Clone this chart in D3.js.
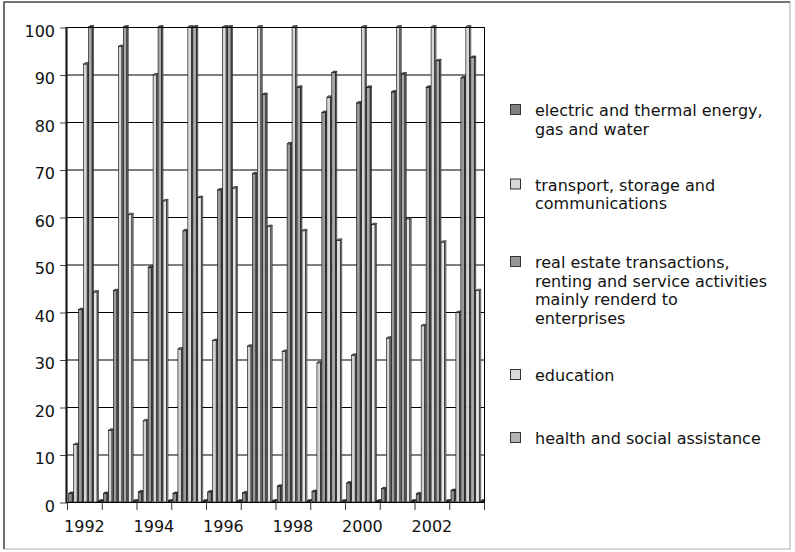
<!DOCTYPE html>
<html>
<head>
<meta charset="utf-8">
<script src="https://cdn.jsdelivr.net/npm/d3@7"></script>
<style>
  html, body { margin: 0; padding: 0; background: #fff; }
  svg { display: block; }
  text { font-family: "DejaVu Sans", sans-serif; fill: #111; }
</style>
</head>
<body>
<svg id="chart" width="795" height="552"></svg>
<script>
// ---- data ----
const years = [1992, 1993, 1994, 1995, 1996, 1997, 1998, 1999, 2000, 2001, 2002, 2003];
const electric   = [1.8, 1.8, 2.1, 1.8, 2.1, 1.9, 3.3, 2.2, 4.0, 2.8, 1.7, 2.4];
const transport  = [12.1, 15.1, 17.1, 32.2, 34.0, 32.8, 31.7, 29.3, 30.9, 34.5, 37.1, 39.9];
const realEstate = [40.5, 44.5, 49.4, 57.1, 65.7, 69.1, 75.4, 82.0, 84.0, 86.3, 87.3, 89.3];
const education  = [92.2, 95.9, 89.9, 100, 100, 100, 100, 85.2, 100, 100, 100, 100];
const health     = [100, 100, 100, 100, 100, 85.8, 87.3, 90.4, 87.3, 90.1, 92.9, 93.6];
const series6    = [44.2, 60.5, 63.4, 64.1, 66.1, 58.0, 57.1, 55.1, 58.4, 59.6, 54.7, 44.5];
const series7    = [0.2, 0.2, 0.2, 0.2, 0.2, 0.2, 0.2, 0.2, 0.2, 0.2, 0.2, 0.2];
const yTicks = [0, 10, 20, 30, 40, 50, 60, 70, 80, 90, 100];
const xLabels = [1992, 1994, 1996, 1998, 2000, 2002];

const barSeries = [electric, transport, realEstate, education, health, series6, series7];
const barColors = ["#8c8c8c", "#d2d2d2", "#9a9a9a", "#d6d6d6", "#a9a9a9", "#e6e6e6", "#7a7a7a"];

const legendItems = [
  { lines: ["electric and thermal energy,", "gas and water"], color: "#808080" },
  { lines: ["transport, storage and", "communications"], color: "#d6d6d6" },
  { lines: ["real estate transactions,", "renting and service activities", "mainly renderd to", "enterprises"], color: "#979797" },
  { lines: ["education"], color: "#dadada" },
  { lines: ["health and social assistance"], color: "#b3b3b3" }
];
const legendBaselines = [116, 190.5, 268, 381, 444];

// ---- layout ----
const svg = d3.select("#chart");
const L = 67, R = 484, T = 27, B = 502;

// outer border
svg.append("rect").attr("x", 4).attr("y", 2).attr("width", 786).attr("height", 547)
  .attr("fill", "none").attr("stroke", "#bbb").attr("stroke-width", 1.2);
svg.append("path").attr("d", `M4,549 V2 H790`).attr("fill", "none")
  .attr("stroke", "#555").attr("stroke-width", 1.6);

const x = d3.scaleBand().domain(years).range([L, R]).padding(0);
const y = d3.scaleLinear().domain([0, 100]).range([B, T]);

// gridlines
svg.append("g").selectAll("line").data(yTicks.slice(1)).join("line")
  .attr("x1", L).attr("x2", R)
  .attr("y1", d => y(d) + 0.5).attr("y2", d => y(d) + 0.5)
  .attr("stroke", "#000").attr("stroke-width", 1);

// right border of plot
svg.append("line").attr("x1", R + 0.5).attr("x2", R + 0.5).attr("y1", T).attr("y2", B)
  .attr("stroke", "#000").attr("stroke-width", 1);

// bars (3D style)
const bw = x.bandwidth() / barSeries.length;
const depth = 1.5;
const fw = bw - depth;
const offset = 1.7;
svg.append("clipPath").attr("id", "plotclip").append("rect")
  .attr("x", L).attr("y", 0).attr("width", R - L).attr("height", B + 1);
const barsG = svg.append("g").attr("clip-path", "url(#plotclip)");

years.forEach((yr, gi) => {
  barSeries.forEach((s, k) => {
    const v = s[gi];
    const x0 = x(yr) + offset + k * bw;
    const yt = y(v);
    const c = barColors[k];
    const g = barsG.append("g");
    // side face
    g.append("path")
      .attr("d", `M${x0 + fw},${yt} L${x0 + fw + depth},${yt - depth} L${x0 + fw + depth},${B - depth} L${x0 + fw},${B} Z`)
      .attr("fill", d3.color(c).darker(1.1)).attr("stroke", "#000").attr("stroke-width", 0.5);
    // front face
    g.append("rect").attr("x", x0).attr("y", yt).attr("width", fw).attr("height", B - yt)
      .attr("fill", c).attr("stroke", "#000").attr("stroke-width", 0.6);
    // top face
    g.append("path")
      .attr("d", `M${x0},${yt} L${x0 + depth},${yt - depth} L${x0 + fw + depth},${yt - depth} L${x0 + fw},${yt} Z`)
      .attr("fill", d3.color(c).darker(1.4)).attr("stroke", "#000").attr("stroke-width", 0.5);
  });
});

// top line of plot
svg.append("line").attr("x1", L).attr("x2", R + 1).attr("y1", T + 0.5).attr("y2", T + 0.5)
  .attr("stroke", "#000").attr("stroke-width", 1);

// y axis
const yAxis = d3.axisLeft(y).tickValues(yTicks).tickSize(7).tickPadding(5).tickFormat(d3.format("d"));
const yg = svg.append("g").attr("transform", `translate(${L},0.5)`).call(yAxis);
yg.select(".domain").remove();
yg.selectAll(".tick line").attr("stroke", "#444");
yg.selectAll(".tick text").attr("font-size", 16).attr("font-family", "DejaVu Sans, sans-serif")
  .attr("fill", "#111").attr("dy", "0.55em");

// left wall line
svg.append("line").attr("x1", L - 0.5).attr("x2", L - 0.5).attr("y1", T).attr("y2", B + 1)
  .attr("stroke", "#1a1a1a").attr("stroke-width", 2.2);

// x axis baseline and boundary ticks
svg.append("line").attr("x1", L).attr("x2", R + 1).attr("y1", B + 0.5).attr("y2", B + 0.5)
  .attr("stroke", "#000").attr("stroke-width", 1);
const bounds = years.map(d => x(d)).concat([x(years[years.length - 1]) + x.bandwidth()]);
svg.append("g").selectAll("line").data(bounds).join("line")
  .attr("x1", d => d + 0.5).attr("x2", d => d + 0.5).attr("y1", B).attr("y2", B + 8)
  .attr("stroke", "#333").attr("stroke-width", 1);

const xAxis = d3.axisBottom(x).tickValues(xLabels).tickSize(0).tickPadding(18.6);
const xg = svg.append("g").attr("transform", `translate(0,${B})`).call(xAxis);
xg.select(".domain").remove();
xg.selectAll(".tick text").attr("font-size", 16).attr("font-family", "DejaVu Sans, sans-serif")
  .attr("fill", "#111");

// legend
const lg = svg.append("g");
legendItems.forEach((item, i) => {
  const b = legendBaselines[i];
  lg.append("rect").attr("x", 510.5).attr("y", b - 11.5).attr("width", 10).attr("height", 10)
    .attr("fill", item.color).attr("stroke", "#333").attr("stroke-width", 1);
  item.lines.forEach((ln, j) => {
    lg.append("text").attr("x", 535).attr("y", b + j * 18.5)
      .attr("font-size", 16).text(ln);
  });
});
</script>
</body>
</html>
